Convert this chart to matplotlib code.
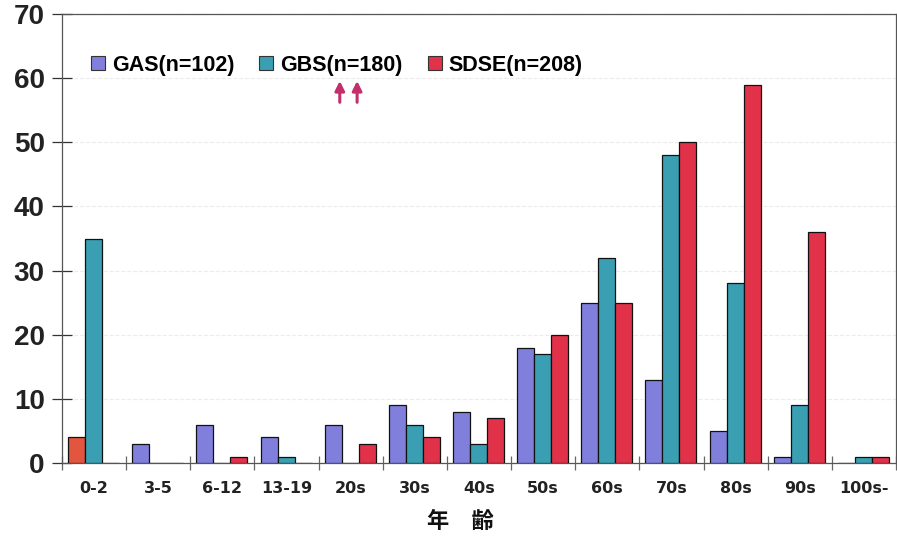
import numpy as np
import matplotlib.pyplot as plt
from matplotlib.patches import Patch

# データ（年齢別の菌種別件数）
age_groups = ['0-2', '3-5', '6-12', '13-19', '20s', '30s', '40s',
              '50s', '60s', '70s', '80s', '90s', '100s-']
gas = [4, 3, 6, 4, 6, 9, 8, 18, 25, 13, 5, 1, 0]
gbs = [35, 0, 0, 1, 0, 6, 3, 17, 32, 48, 28, 9, 1]
sdse = [0, 0, 1, 0, 3, 4, 7, 20, 25, 50, 59, 36, 1]
series_labels = ['GAS(n=102)', 'GBS(n=180)', 'SDSE(n=208)']

c_gas = '#8080dc'
c_gbs = '#3a9fb2'
c_sdse = '#e2324a'
c_first = '#e2553f'  # 0-2 の左の棒だけ色が違う

plt.rcParams['font.family'] = ['Liberation Sans', 'DejaVu Sans']

fig = plt.figure(figsize=(8.97, 5.39), dpi=100)
ax = fig.add_axes([62 / 897, 76 / 539, 834 / 897, 449 / 539])

x = np.arange(len(age_groups))
w = 0.265
gas_colors = [c_first] + [c_gas] * (len(gas) - 1)
ax.bar(x + 0.095, gas, w, align='edge', color=gas_colors, edgecolor='#111111', linewidth=0.9, zorder=3)
ax.bar(x + 0.095 + w, gbs, w, align='edge', color=c_gbs, edgecolor='#111111', linewidth=0.9, zorder=3)
ax.bar(x + 0.095 + 2 * w, sdse, w, align='edge', color=c_sdse, edgecolor='#111111', linewidth=0.9, zorder=3)

ax.set_xlim(0, len(age_groups))
ax.set_ylim(0, 70)

# x軸: 境界に目盛、ラベルは中央
ax.set_xticks(np.arange(len(age_groups) + 1))
ax.set_xticklabels([])
ax.set_xticks(x + 0.5, minor=True)
ax.set_xticklabels(age_groups, minor=True, fontsize=11.5, fontweight='bold', color='#222222',
                   family=['DejaVu Sans'])
ax.tick_params(axis='x', which='major', direction='inout', length=10, width=0.9, color='#666666')
ax.tick_params(axis='x', which='minor', length=0, pad=13)

ax.set_yticks(range(0, 71, 10))
ax.set_yticklabels([str(v) for v in range(0, 71, 10)], fontsize=20, fontweight='bold', color='#222222')
ax.tick_params(axis='y', direction='inout', length=15, width=0.9, color='#333333', pad=5)

ax.grid(axis='y', color='#ececec', linestyle='--', linewidth=0.8, zorder=0)

for side in ['left', 'bottom', 'top', 'right']:
    ax.spines[side].set_color('#555555')
    ax.spines[side].set_linewidth(0.9)

handles = [Patch(facecolor=c, edgecolor='#333333', linewidth=0.8) for c in (c_gas, c_gbs, c_sdse)]
ax.legend(handles, series_labels, loc='upper left', bbox_to_anchor=(0.027, 0.924), ncol=3,
          frameon=False, handlelength=0.65, handleheight=0.65, handletextpad=0.33,
          columnspacing=1.15, borderaxespad=0, borderpad=0.3,
          prop={'family': 'Liberation Sans', 'weight': 'bold', 'size': 15.5})

# 矢印
for ax_x in (4.33, 4.6):
    ax.annotate('', xy=(ax_x, 60.0), xytext=(ax_x, 55.8),
                arrowprops=dict(arrowstyle='-|>', color='#c2306c', lw=2.2, mutation_scale=14))

fig.text(460 / 897, 1 - 521 / 539, '年　齢', ha='center', va='center', fontsize=16, fontweight='bold',
         family=['Noto Sans CJK JP', 'DejaVu Sans'], color='#111111')

fig.savefig('out.png', dpi=100)
